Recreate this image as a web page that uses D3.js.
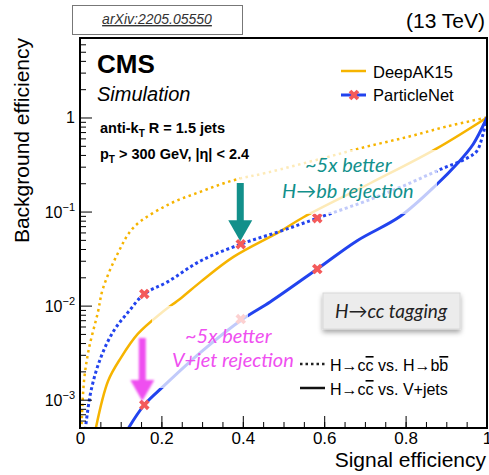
<!DOCTYPE html>
<meta charset="utf-8">
<head>
<script src="https://d3js.org/d3.v7.min.js"></script>
<style>
    body { margin: 0; background: #fff; }
    svg text { font-family: "Liberation Sans", Arial, sans-serif; }
    .note { font-family: Lato, sans-serif; font-style: italic; }
</style>
</head>
<body>
<div id="chart"></div>
<script>
    // signal efficiency / background efficiency
    var dakBbSig = [0.004, 0.01, 0.022, 0.044, 0.056, 0.093, 0.132, 0.216, 0.297, 0.377, 0.461, 0.598, 0.70, 0.804, 0.90, 1];
    var dakBbBkg = [5.5e-4, 1.6e-3, 3.5e-3, 8.5e-3, 0.015, 0.036, 0.068, 0.118, 0.163, 0.215, 0.26, 0.37, 0.485, 0.62, 0.8, 1];

    var pnetBbSig = [0.013, 0.027, 0.051, 0.083, 0.12, 0.158, 0.216, 0.297, 0.395, 0.493, 0.583, 0.72, 0.804, 0.885, 0.951, 0.975, 0.99, 1];
    var pnetBbBkg = [4.8e-4, 1.24e-3, 2.8e-3, 5.4e-3, 8.7e-3, 0.0133, 0.018, 0.030, 0.045, 0.062, 0.085, 0.138, 0.195, 0.28, 0.37, 0.44, 0.66, 1];

    var dakVjSig = [0.039, 0.069, 0.10, 0.142, 0.199, 0.248, 0.297, 0.377, 0.493, 0.549, 0.713, 0.877, 1];
    var dakVjBkg = [5e-4, 1.58e-3, 2.77e-3, 5e-3, 8.3e-3, 0.012, 0.018, 0.033, 0.062, 0.087, 0.2, 0.47, 1];

    var pnetVjSig = [0.118, 0.158, 0.206, 0.297, 0.40, 0.468, 0.583, 0.681, 0.787, 0.877, 0.926, 0.966, 1];
    var pnetVjBkg = [4.9e-4, 8.8e-4, 1.4e-3, 3.2e-3, 7.2e-3, 0.011, 0.0245, 0.049, 0.089, 0.195, 0.32, 0.52, 1];

    // ParticleNet working points (red crosses)
    var markerSig = [0.158, 0.395, 0.583];
    var markerBb = [0.0133, 0.045, 0.085];
    var markerVj = [8.8e-4, 7.2e-3, 0.0245];

    var xTicks = [0, 0.2, 0.4, 0.6, 0.8, 1];
    var yTicks = [1e-3, 1e-2, 1e-1, 1];
    var yTickExp = ["\u22123", "\u22122", "\u22121", ""];

    var orange = "#f6b400", blue = "#2243ee", red = "#f45a5a";
    var teal = "#12908b", magenta = "#ef4ff0";

    var W = 489, H = 475;
    var frame = {left: 80, right: 487, top: 38, bottom: 428};

    var svg = d3.select("#chart").append("svg")
        .attr("width", W).attr("height", H);

    var defs = svg.append("defs");
    defs.append("clipPath").attr("id", "plotClip")
        .append("rect").attr("x", frame.left).attr("y", frame.top)
        .attr("width", frame.right - frame.left).attr("height", frame.bottom - frame.top);
    var shadow = defs.append("filter").attr("id", "shadow")
        .attr("x", "-10%").attr("y", "-20%").attr("width", "120%").attr("height", "160%");
    shadow.append("feDropShadow").attr("dx", 0).attr("dy", 3)
        .attr("stdDeviation", 2.5).attr("flood-color", "#000").attr("flood-opacity", 0.35);
    var glow = defs.append("filter").attr("id", "glow");
    glow.append("feGaussianBlur").attr("stdDeviation", 0.8);

    var x = d3.scaleLinear().domain([0, 1]).range([frame.left, frame.right]);
    var y = d3.scaleLog().domain([5e-4, 7]).range([frame.bottom, frame.top]);

    var line = d3.line()
        .x(function(d) { return x(d[0]); })
        .y(function(d) { return y(d[1]); })
        .curve(d3.curveCatmullRom.alpha(0.5));

    function zip(a, b) { return a.map(function(v, i) { return [v, b[i]]; }); }

    var plot = svg.append("g").attr("clip-path", "url(#plotClip)");

    plot.append("path").datum(zip(dakBbSig, dakBbBkg))
        .attr("d", line).attr("fill", "none").attr("stroke", orange)
        .attr("stroke-width", 2.5).attr("stroke-dasharray", "2.5,3.5");
    plot.append("path").datum(zip(dakVjSig, dakVjBkg))
        .attr("d", line).attr("fill", "none").attr("stroke", orange)
        .attr("stroke-width", 2.5);
    plot.append("path").datum(zip(pnetBbSig, pnetBbBkg))
        .attr("d", line).attr("fill", "none").attr("stroke", blue)
        .attr("stroke-width", 3).attr("stroke-dasharray", "3,2.7");
    plot.append("path").datum(zip(pnetVjSig, pnetVjBkg))
        .attr("d", line).attr("fill", "none").attr("stroke", blue)
        .attr("stroke-width", 3);

    var cross = d3.symbol().type(d3.symbolCross).size(70);
    var markers = zip(markerSig, markerBb).concat(zip(markerSig, markerVj));
    plot.selectAll(".wp")
        .data(markers)
        .enter().append("path")
        .attr("class", "wp")
        .attr("d", cross)
        .attr("fill", red)
        .attr("transform", function(d) { return "translate(" + x(d[0]) + "," + y(d[1]) + ") rotate(45)"; });

    // semi-transparent backgrounds of the pasted annotations
    plot.append("rect").attr("x", 240).attr("y", 150).attr("width", 197).attr("height", 64)
        .attr("fill", "#fff").attr("opacity", 0.72);
    plot.append("rect").attr("x", 152).attr("y", 306).attr("width", 96).attr("height", 82)
        .attr("fill", "#fff").attr("opacity", 0.72);

    // axes: ticks point into the frame
    svg.append("g")
        .attr("transform", "translate(0," + frame.bottom + ")")
        .call(d3.axisBottom(x).ticks(20).tickSize(-6).tickFormat(""))
        .call(function(g) { g.select(".domain").remove(); });
    svg.append("g")
        .attr("transform", "translate(0," + frame.bottom + ")")
        .call(d3.axisBottom(x).tickValues(xTicks).tickSize(-12).tickPadding(4)
            .tickFormat(function(d) { return d === 0 || d === 1 ? d : d.toFixed(1); }))
        .call(function(g) {
            g.select(".domain").remove();
            g.selectAll("text").attr("font-size", 17).attr("fill", "#000")
                .attr("font-family", "Liberation Sans, Arial, sans-serif");
        });

    var minorY = [];
    [-4, -3, -2, -1, 0].forEach(function(e) {
        for (var m = 2; m <= 9; m++) {
            var v = m * Math.pow(10, e);
            if (v >= 5e-4 && v <= 7) minorY.push(v);
        }
    });
    svg.append("g")
        .attr("transform", "translate(" + frame.left + ",0)")
        .call(d3.axisLeft(y).tickValues(minorY).tickSize(-6).tickFormat(""))
        .call(function(g) { g.select(".domain").remove(); });
    svg.append("g")
        .attr("transform", "translate(" + frame.left + ",0)")
        .call(d3.axisLeft(y).tickValues(yTicks).tickSize(-12).tickFormat(""))
        .call(function(g) { g.select(".domain").remove(); });

    var yLab = svg.append("g").selectAll("text")
        .data(yTicks)
        .enter().append("text")
        .attr("x", 75)
        .attr("y", function(d) { return y(d) + 6; })
        .attr("text-anchor", "end")
        .attr("font-size", 16);
    yLab.each(function(d, i) {
        var t = d3.select(this);
        if (d === 1) { t.text("1"); return; }
        t.append("tspan").text("10");
        t.append("tspan").attr("dy", -7).attr("font-size", 11).text(yTickExp[i]);
    });

    svg.append("rect")
        .attr("x", frame.left).attr("y", frame.top)
        .attr("width", frame.right - frame.left).attr("height", frame.bottom - frame.top)
        .attr("fill", "none").attr("stroke", "#000").attr("stroke-width", 2);

    // axis titles
    svg.append("text")
        .attr("transform", "translate(29," + frame.top + ") rotate(-90)")
        .attr("text-anchor", "end")
        .attr("font-size", 21)
        .text("Background efficiency");
    svg.append("text")
        .attr("x", 486).attr("y", 467)
        .attr("text-anchor", "end")
        .attr("font-size", 21)
        .text("Signal efficiency");

    // header
    svg.append("rect").attr("x", 72.5).attr("y", 5.5).attr("width", 170).attr("height", 29)
        .attr("fill", "#fff").attr("stroke", "#777").attr("stroke-width", 1);
    svg.append("text")
        .attr("x", 157).attr("y", 24)
        .attr("text-anchor", "middle")
        .attr("font-size", 14)
        .attr("font-style", "italic")
        .attr("fill", "#333")
        .style("text-decoration", "underline")
        .text("arXiv:2205.05550");
    svg.append("text")
        .attr("x", 485).attr("y", 28)
        .attr("text-anchor", "end")
        .attr("font-size", 21)
        .text("(13 TeV)");

    svg.append("text").attr("x", 97).attr("y", 73)
        .attr("font-size", 26).attr("font-weight", "bold").text("CMS");
    svg.append("text").attr("x", 97).attr("y", 101)
        .attr("font-size", 20).attr("font-style", "italic").text("Simulation");

    var t1 = svg.append("text").attr("x", 100).attr("y", 133)
        .attr("font-size", 14.5).attr("font-weight", "bold");
    t1.append("tspan").text("anti-k");
    t1.append("tspan").attr("dy", 4).attr("font-size", 10).text("T");
    t1.append("tspan").attr("dy", -4).text(" R = 1.5 jets");
    var t2 = svg.append("text").attr("x", 100).attr("y", 159)
        .attr("font-size", 14.5).attr("font-weight", "bold");
    t2.append("tspan").text("p");
    t2.append("tspan").attr("dy", 4).attr("font-size", 10).text("T");
    t2.append("tspan").attr("dy", -4).text(" > 300 GeV, |\u03b7| < 2.4");

    // algorithm legend
    svg.append("line").attr("x1", 341).attr("x2", 366).attr("y1", 71).attr("y2", 71)
        .attr("stroke", orange).attr("stroke-width", 2.5);
    svg.append("text").attr("x", 373).attr("y", 78).attr("font-size", 16.5).text("DeepAK15");
    svg.append("line").attr("x1", 341).attr("x2", 366).attr("y1", 95).attr("y2", 95)
        .attr("stroke", blue).attr("stroke-width", 3);
    svg.append("path").attr("d", cross).attr("fill", red)
        .attr("transform", "translate(354,95) rotate(45)");
    svg.append("text").attr("x", 373).attr("y", 101).attr("font-size", 16.5).text("ParticleNet");

    // tagging label box
    svg.append("rect").attr("x", 323).attr("y", 293).attr("width", 137).attr("height", 36)
        .attr("fill", "#ececec").attr("stroke", "#d8d8d8").attr("filter", "url(#shadow)");
    svg.append("text").attr("class", "note")
        .attr("x", 391).attr("y", 318).attr("text-anchor", "middle")
        .attr("font-size", 19).attr("fill", "#222")
        .text("H\u2192cc tagging");

    // line-style legend
    svg.append("line").attr("x1", 300).attr("x2", 325).attr("y1", 364).attr("y2", 364)
        .attr("stroke", "#222").attr("stroke-width", 2.5).attr("stroke-dasharray", "2.5,3");
    var l1 = svg.append("text").attr("x", 330).attr("y", 371).attr("font-size", 16);
    l1.append("tspan").text("H\u2192c");
    l1.append("tspan").style("text-decoration", "overline").text("c");
    l1.append("tspan").text(" vs. H\u2192b");
    l1.append("tspan").style("text-decoration", "overline").text("b");
    svg.append("line").attr("x1", 300).attr("x2", 325).attr("y1", 388).attr("y2", 388)
        .attr("stroke", "#111").attr("stroke-width", 2.5);
    var l2 = svg.append("text").attr("x", 330).attr("y", 395).attr("font-size", 16);
    l2.append("tspan").text("H\u2192c");
    l2.append("tspan").style("text-decoration", "overline").text("c");
    l2.append("tspan").text(" vs. V+jets");

    // annotations
    svg.append("text").attr("class", "note").attr("x", 305).attr("y", 172)
        .attr("font-size", 20).attr("fill", teal).text("~5x better");
    svg.append("text").attr("class", "note").attr("x", 282).attr("y", 198)
        .attr("font-size", 20).attr("fill", teal).text("H\u2192bb rejection");
    svg.append("text").attr("class", "note").attr("x", 185).attr("y", 343)
        .attr("font-size", 20).attr("fill", magenta).text("~5x better");
    svg.append("text").attr("class", "note").attr("x", 172).attr("y", 367)
        .attr("font-size", 20).attr("fill", magenta).text("V+jet rejection");

    function arrow(cx, y0, yTip, color, blur) {
        var g = svg.append("g").attr("fill", color);
        if (blur) g.attr("filter", "url(#glow)");
        g.append("rect").attr("x", cx - 3.5).attr("y", y0).attr("width", 7).attr("height", yTip - 20 - y0);
        g.append("path").attr("d", "M" + (cx - 12) + "," + (yTip - 21) + "L" + (cx + 12) + "," + (yTip - 21) + "L" + cx + "," + yTip + "Z");
    }
    arrow(x(markerSig[1]) - 0.5, 183, y(markerBb[1]) - 3, teal, false);
    arrow(x(markerSig[0]) - 2, 338, y(markerVj[0]) - 4, magenta, true);
</script>
</body>
